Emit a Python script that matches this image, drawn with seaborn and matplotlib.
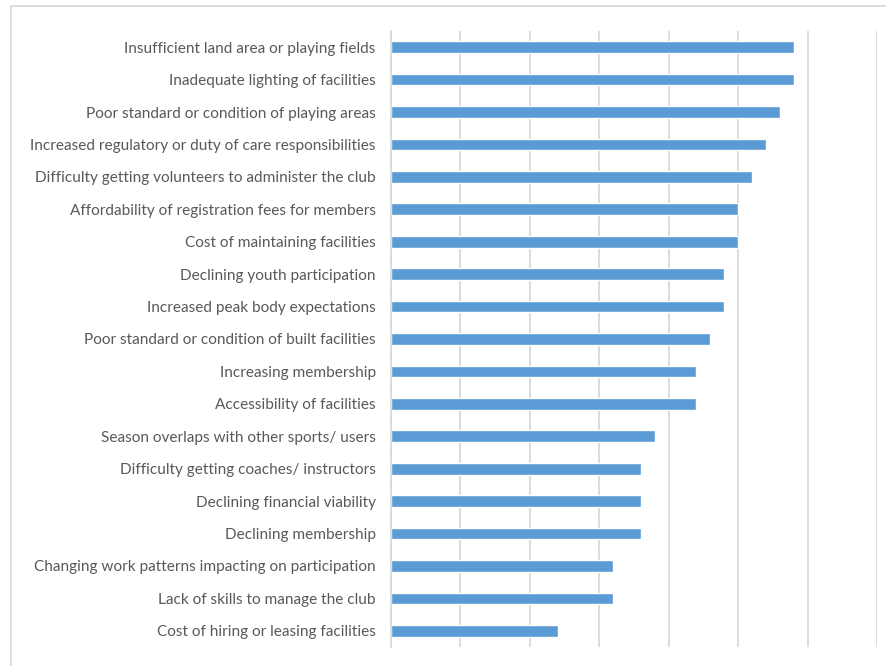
import matplotlib
matplotlib.use("Agg")
import matplotlib.pyplot as plt
import matplotlib.patches as mpatches
import seaborn as sns
import pandas as pd

# Barreiras / problemas enfrentados pelos clubes (contagens)
issues = [
    "Insufficient land area or playing fields",
    "Inadequate lighting of facilities",
    "Poor standard or condition of playing areas",
    "Increased regulatory or duty of care responsibilities",
    "Difficulty getting volunteers to administer the club",
    "Affordability of registration fees for members",
    "Cost of maintaining facilities",
    "Declining youth participation",
    "Increased peak body expectations",
    "Poor standard or condition of built facilities",
    "Increasing membership",
    "Accessibility of facilities",
    "Season overlaps with other sports/ users",
    "Difficulty getting coaches/ instructors",
    "Declining financial viability",
    "Declining membership",
    "Changing work patterns impacting on participation",
    "Lack of skills to manage the club",
    "Cost of hiring or leasing facilities",
]
counts = [29, 29, 28, 27, 26, 25, 25, 24, 24, 23, 22, 22, 19, 18, 18, 18, 16, 16, 12]
x_ticks = [0, 5, 10, 15, 20, 25, 30, 35]

df = pd.DataFrame({"issue": issues, "count": counts})

sns.set_style("white")
plt.rcParams["font.family"] = ["Lato", "DejaVu Sans"]

fig = plt.figure(figsize=(8.87, 6.66), dpi=100)
ax = fig.add_axes([0.4408, 0.0285, 0.9887 - 0.4408, 0.9535 - 0.0285])

sns.barplot(data=df, x="count", y="issue", orient="h", color="#5B9BD5",
            saturation=1, width=0.36, ax=ax)

ax.set_xlim(0, 35)
ax.set_xticks(x_ticks)
ax.set_xticklabels([])
ax.tick_params(axis="x", length=0)
ax.tick_params(axis="y", length=0, pad=11, labelsize=11.1, labelcolor="#595959")
ax.xaxis.grid(True, color="#D9D9D9", linewidth=1.3)
ax.set_axisbelow(True)
for s in ["top", "right", "bottom"]:
    ax.spines[s].set_visible(False)
ax.spines["left"].set_color("#D9D9D9")
ax.spines["left"].set_linewidth(1.3)
ax.set_xlabel("")
ax.set_ylabel("")

# moldura do grafico
frame = mpatches.Rectangle((11 / 887, -0.05), 1.0, 1 - 6 / 666 + 0.05,
                           transform=fig.transFigure, fill=False,
                           edgecolor="#D9D9D9", linewidth=1.3)
fig.patches.append(frame)

fig.savefig("out.png", dpi=100)
